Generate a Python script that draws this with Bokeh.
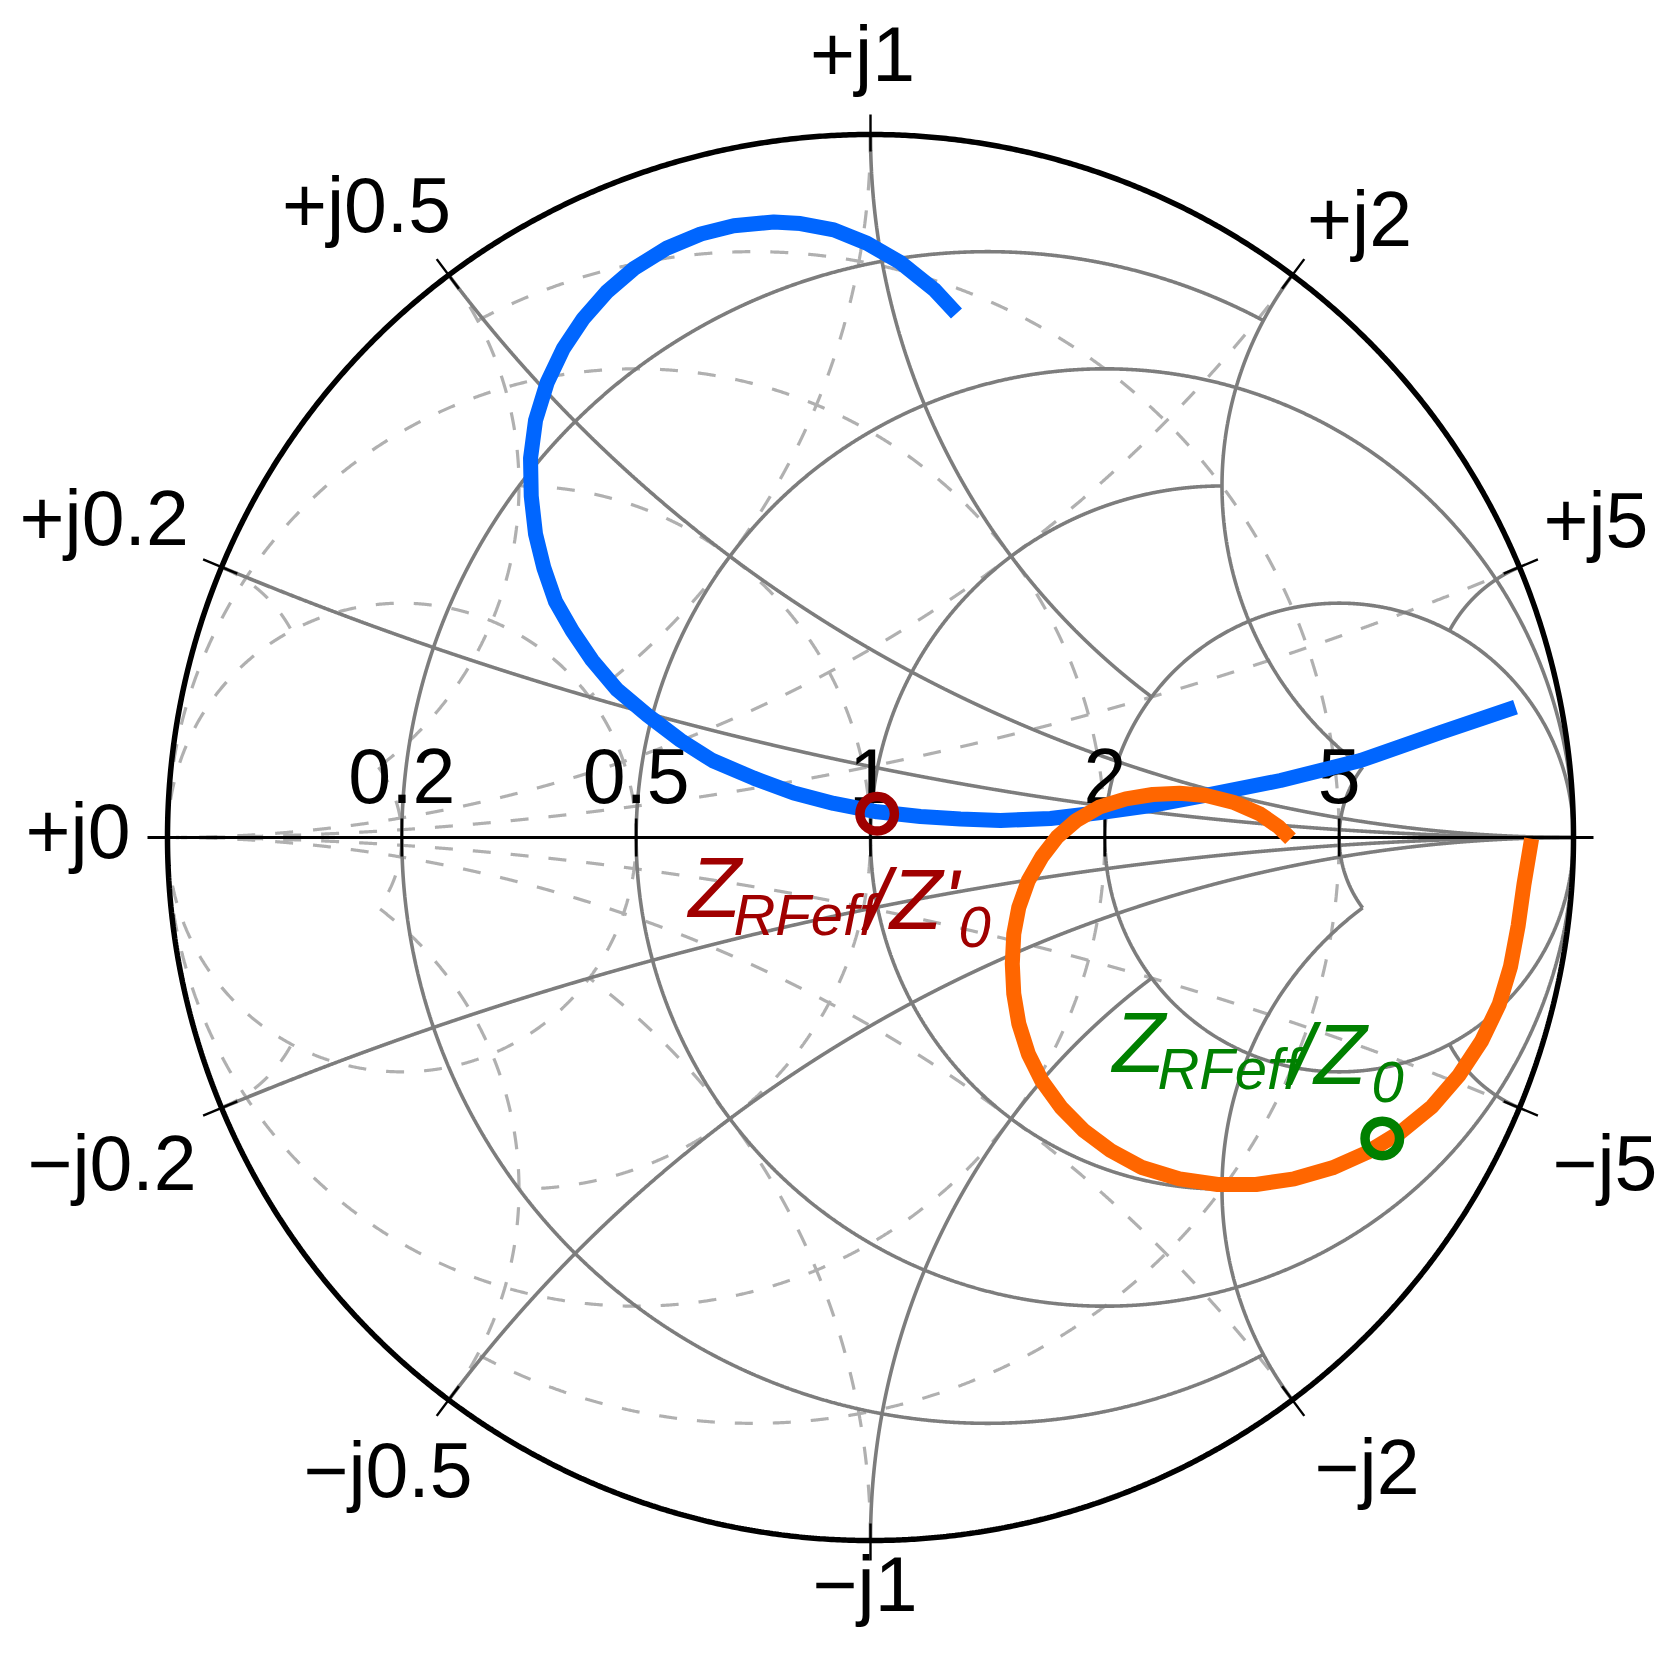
import numpy as np
from bokeh.plotting import figure
from bokeh.models import Range1d
from bokeh.embed import file_html
from bokeh.resources import INLINE
from bokeh.core.properties import value

# ---------------- data ----------------
grid_values = [0.2, 0.5, 1, 2, 5]
r_circle_limit = [2, None, 2, None, 2]   # |x| up to which each r circle is drawn
x_arc_limit = [None, None, 2, 5, 2]      # r up to which each x arc is drawn
resistance_labels = ["0.2", "0.5", "1", "2", "5"]
reactance_values = [0, 0.2, 0.5, 1, 2, 5, -0.2, -0.5, -1, -2, -5]
reactance_labels = ["+j0", "+j0.2", "+j0.5", "+j1", "+j2", "+j5",
                    "\u2212j0.2", "\u2212j0.5", "\u2212j1", "\u2212j2", "\u2212j5"]

blue_re = [0.1223, 0.0911, 0.0427, -0.0050, -0.0521, -0.0996, -0.1376, -0.1945, -0.2414,
           -0.2892, -0.3368, -0.3749, -0.4088, -0.4370, -0.4599, -0.4765, -0.4836, -0.4826,
           -0.4765, -0.4647, -0.4481, -0.4243, -0.3959, -0.3603, -0.3176, -0.2703, -0.2248,
           -0.1660, -0.1091, -0.0522, 0.0095, 0.0711, 0.1280, 0.1849, 0.2560, 0.3272,
           0.3983, 0.4836, 0.5832, 0.6970, 0.8108, 0.9175]
blue_im = [0.7454, 0.7791, 0.8178, 0.8453, 0.8643, 0.8733, 0.8756, 0.8701, 0.8585,
           0.8386, 0.8091, 0.7764, 0.7378, 0.6954, 0.6472, 0.5933, 0.5394, 0.4855,
           0.4317, 0.3838, 0.3358, 0.2940, 0.2521, 0.2101, 0.1743, 0.1383, 0.1095,
           0.0845, 0.0634, 0.0485, 0.0366, 0.0299, 0.0263, 0.0242, 0.0270, 0.0356,
           0.0455, 0.0612, 0.0811, 0.1095, 0.1494, 0.1856]
orange_re = [0.5974, 0.5811, 0.5539, 0.5158, 0.4777, 0.4395, 0.4014, 0.3633, 0.3252, 0.2926,
             0.2653, 0.2435, 0.2245, 0.2110, 0.2038, 0.2017, 0.2038, 0.2110, 0.2245, 0.2435,
             0.2708, 0.3034, 0.3415, 0.3851, 0.4395, 0.4940, 0.5484, 0.6028, 0.6573, 0.7063,
             0.7553, 0.7989, 0.8370, 0.8696, 0.8942, 0.9104, 0.9213, 0.9295, 0.9360, 0.9404]
orange_im = [-0.0018, 0.0147, 0.0337, 0.0502, 0.0597, 0.0630, 0.0612, 0.0550, 0.0431, 0.0242,
             0.0004, -0.0280, -0.0612, -0.0991, -0.1370, -0.1797, -0.2223, -0.2650, -0.3077, -0.3457,
             -0.3836, -0.4168, -0.4452, -0.4690, -0.4855, -0.4936, -0.4936, -0.4855, -0.4698, -0.4481,
             -0.4182, -0.3826, -0.3385, -0.2888, -0.2376, -0.1835, -0.1252, -0.0669, -0.0280, -0.0018]

marker_red_re, marker_red_im = [0.0095], [0.0337]
marker_green_re, marker_green_im = [0.728], [-0.428]

# ---------------- layout ----------------
W, H = 1670, 1659
S = 703.0                 # pixels per unit of |Gamma|
CX, CY = 870.0, 837.0     # chart centre in figure pixels
FONT = value("Liberation Sans")
MID = 0.355               # em offset between alphabetic baseline and 'middle'

# reactance label placement: radial distance (px) and angular nudge (deg)
label_rho_px = [792.5, 830.2, 808.4, 783.6, 788.5, 791.7, 825.2, 795.9, 746.1, 801.7, 803.2]
label_dphi = [-0.47, 0.0, 1.7, 0.58, -1.46, 1.0, 0.58, -0.45, -0.42, 1.4, -1.25]


def gam(z):
    return (z - 1) / (z + 1)


p = figure(width=W, height=H, x_range=Range1d(-CX / S, (W - CX) / S),
           y_range=Range1d(-(H - CY) / S, CY / S), output_backend="svg",
           toolbar_location=None, x_axis_type=None, y_axis_type=None,
           min_border=0, outline_line_color=None)
p.grid.visible = False

# grid curves
solid_xs, solid_ys = [], []
for r, lim in zip(grid_values, r_circle_limit):
    tmax = np.arctan(lim) if lim else np.pi / 2 - 1e-5
    t = np.linspace(-tmax, tmax, 3000)
    g = gam(r + 1j * np.tan(t))
    solid_xs.append(g.real)
    solid_ys.append(g.imag)
for xv, lim in zip(grid_values, x_arc_limit):
    tmax = np.arctan(lim) if lim else np.pi / 2 - 1e-5
    t = np.linspace(0, tmax, 3000)
    for s in (1, -1):
        g = gam(np.tan(t) + 1j * s * xv)
        solid_xs.append(g.real)
        solid_ys.append(g.imag)
dash_xs = [-a for a in solid_xs]
dash_ys = [-b for b in solid_ys]

p.multi_line(dash_xs, dash_ys, line_color="#b0b0b0", line_width=3.2, line_dash="18 20")
p.multi_line(solid_xs, solid_ys, line_color="#7d7d7d", line_width=3.6)

# outer circle and real axis
th = np.linspace(0, 2 * np.pi, 1500)
p.line(np.cos(th), np.sin(th), line_color="black", line_width=5.5)
p.line([-1 - 20 / S, 1 + 20 / S], [0, 0], line_color="black", line_width=3)

# resistance ticks
rt = [gam(r).real for r in grid_values]
p.multi_line([[x, x] for x in rt], [[-19 / S, 19 / S] for _ in rt], line_color="black", line_width=2.6)

# reactance ticks
tx, ty = [], []
for xv in reactance_values:
    if xv == 0:
        continue
    g = gam(1j * xv)
    tx.append([g.real * (1 - 17 / S), g.real * (1 + 20 / S)])
    ty.append([g.imag * (1 - 17 / S), g.imag * (1 + 20 / S)])
p.multi_line(tx, ty, line_color="black", line_width=2.4)

# resistance labels (baseline 34 px above the axis)
p.text(x=rt, y=[(34 + MID * 77) / S] * len(rt), text=resistance_labels, text_font=FONT,
       text_font_size=value("77px"), text_align="center", text_baseline="middle",
       text_color="black")

# traces
p.line(blue_re, blue_im, line_color="#0066ff", line_width=15, line_join="round")
p.line(orange_re, orange_im, line_color="#ff6600", line_width=15, line_join="round")

# markers
p.scatter(marker_red_re, marker_red_im, marker="circle", size=34.5, fill_color=None,
          line_color="#a00000", line_width=9.5)
p.scatter(marker_green_re, marker_green_im, marker="circle", size=34.5, fill_color=None,
          line_color="#008000", line_width=9.5)


def zlabel(mx, my, dx, dy, pieces, color):
    for txt, ox, oy, size in pieces:
        base = my - (dy + oy) / S
        p.text(x=[mx + (dx + ox) / S], y=[base + MID * size / S], text=[txt], text_font=FONT,
               text_font_style="italic", text_font_size=value(f"{size}px"),
               text_align="left", text_baseline="middle", text_color=color)


zlabel(marker_red_re[0], marker_red_im[0], -188.7, 103.4,
       [("Z", 0, 0, 86), ("RFeff", 45, 17.5, 58), ("/Z'", 177.5, 12.3, 86), ("0", 270, 30.6, 58)],
       "#a00000")
zlabel(marker_green_re[0], marker_green_im[0], -269.8, -66.3,
       [("Z", 0, 0, 86), ("RFeff", 45, 17.5, 58), ("/Z", 177.5, 12.3, 86), ("0", 259, 30.6, 58)],
       "#008000")

# reactance labels (cap-height centres)
lx, ly = [], []
for xv, rho, dphi in zip(reactance_values, label_rho_px, label_dphi):
    g = gam(1j * xv)
    phi = np.angle(g) + np.deg2rad(dphi)
    lx.append(rho / S * np.cos(phi))
    ly.append(rho / S * np.sin(phi))
p.text(x=lx, y=ly, text=reactance_labels, text_font=FONT, text_font_size=value("77px"),
       text_align="center", text_baseline="middle", text_color="black")

open("out.html", "w").write(file_html(p, INLINE))
